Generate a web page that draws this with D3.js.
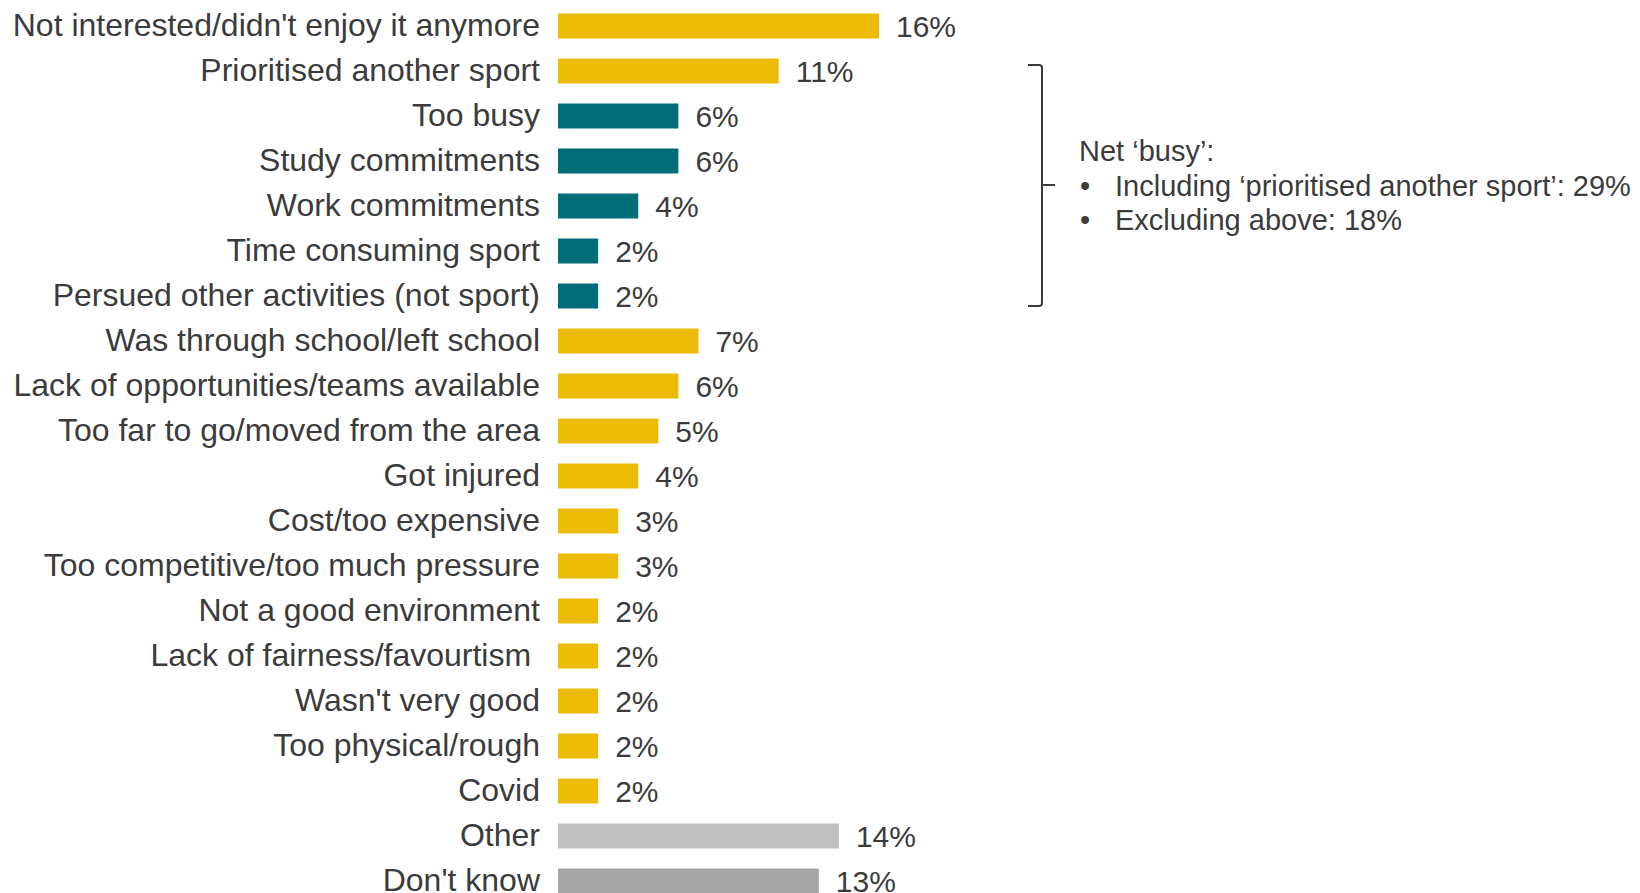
<!DOCTYPE html>
<html>
<head>
<meta charset="utf-8">
<script src="https://cdn.jsdelivr.net/npm/d3@7"></script>
<style>
  html, body { margin: 0; padding: 0; background: #ffffff; }
  svg { display: block; }
  text { font-family: "Liberation Sans", Arial, sans-serif; fill: #3b3b3b; white-space: pre; }
</style>
</head>
<body>
<svg id="chart" width="1640" height="893"></svg>
<script>
// Reasons for stopping the sport (% of respondents)
const categories = [
  "Not interested/didn't enjoy it anymore",
  "Prioritised another sport",
  "Too busy",
  "Study commitments",
  "Work commitments",
  "Time consuming sport",
  "Persued other activities (not sport)",
  "Was through school/left school",
  "Lack of opportunities/teams available",
  "Too far to go/moved from the area",
  "Got injured",
  "Cost/too expensive",
  "Too competitive/too much pressure",
  "Not a good environment",
  "Lack of fairness/favourtism ",
  "Wasn't very good",
  "Too physical/rough",
  "Covid",
  "Other",
  "Don't know"
];
const values = [16, 11, 6, 6, 4, 2, 2, 7, 6, 5, 4, 3, 3, 2, 2, 2, 2, 2, 14, 13];
// group of each reason: main reasons, the 'busy' net, other, don't know
const groups = ["main", "main", "busy", "busy", "busy", "busy", "busy",
  "main", "main", "main", "main", "main", "main", "main", "main", "main",
  "main", "main", "other", "dk"];
const groupColors = { main: "#ebbb06", busy: "#006d77", other: "#bfbfbf", dk: "#a6a6a6" };

const noteTitle = "Net \u2018busy\u2019:";
const noteBullets = [
  "Including \u2018prioritised another sport\u2019: 29%",
  "Excluding above: 18%"
];

const rows = categories.map((c, i) => ({ cat: c, value: values[i], group: groups[i] }));

const svg = d3.select("#chart");

const barLeft = 558;
const x = d3.scaleLinear().domain([0, 16]).range([barLeft, 879]);

const n = categories.length;
const step = 45;
const pad = 1 - 25 / step;
const y = d3.scaleBand()
  .domain(categories)
  .range([3.5, 3.5 + step * n])
  .paddingInner(pad)
  .paddingOuter(pad / 2);

// bars
svg.append("g").selectAll("rect")
  .data(rows)
  .join("rect")
  .attr("x", x(0))
  .attr("y", d => y(d.cat))
  .attr("width", d => x(d.value) - x(0))
  .attr("height", y.bandwidth())
  .attr("fill", d => groupColors[d.group]);

// category labels via a left axis with no line or ticks
const yAxis = d3.axisLeft(y).tickSize(0).tickPadding(0);
const axisG = svg.append("g")
  .attr("transform", `translate(${barLeft - 18},0)`)
  .call(yAxis);
axisG.select(".domain").remove();
axisG.selectAll("text")
  .attr("font-size", 32)
  .attr("font-family", "Liberation Sans, Arial, sans-serif")
  .attr("fill", "#3b3b3b")
  .attr("xml:space", "preserve")
  .style("white-space", "pre")
  .attr("dy", "0.31em");

// value labels
svg.append("g").selectAll("text")
  .data(rows)
  .join("text")
  .attr("x", d => x(d.value) + 17)
  .attr("y", d => y(d.cat) + y.bandwidth() / 2)
  .attr("dy", "0.37em")
  .attr("font-size", 30)
  .text(d => d.value + "%");

// bracket around the 'busy' rows
const bTop = 65;
const bBot = 306;
const bMid = 185;
const bx = 1042;
svg.append("path")
  .attr("d", `M1028,${bTop} H${bx - 3} Q${bx},${bTop} ${bx},${bTop + 3} V${bBot - 3} Q${bx},${bBot} ${bx - 3},${bBot} H1028`)
  .attr("fill", "none")
  .attr("stroke", "#3b3b3b")
  .attr("stroke-width", 2);
svg.append("path")
  .attr("d", `M${bx},${bMid} H1055`)
  .attr("fill", "none")
  .attr("stroke", "#3b3b3b")
  .attr("stroke-width", 2);

// note text
const note = svg.append("g").attr("font-size", 29);
note.append("text").attr("x", 1079).attr("y", 161).text(noteTitle);
noteBullets.forEach((t, i) => {
  const by = 195.5 + i * 34.5;
  note.append("text").attr("x", 1080).attr("y", by).text("\u2022");
  note.append("text").attr("x", 1115).attr("y", by).text(t);
});
</script>
</body>
</html>
